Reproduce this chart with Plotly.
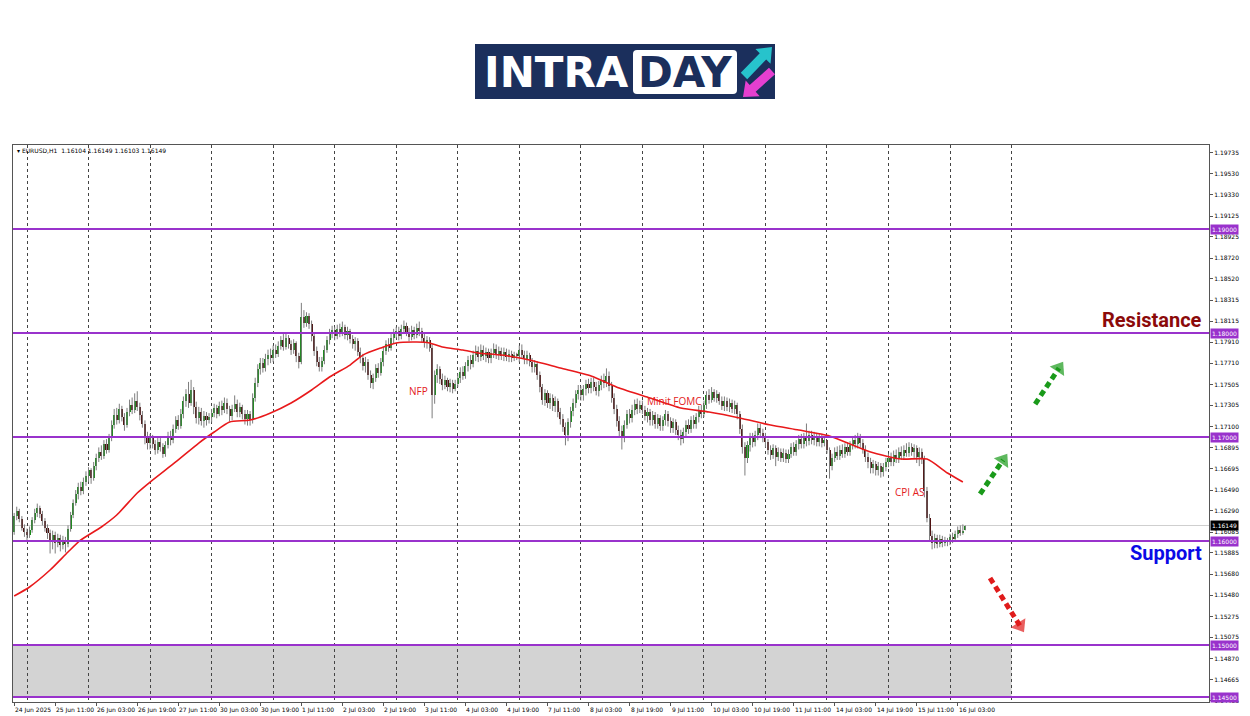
import math
import plotly.graph_objects as go

# ---------------- DATA (EURUSD H1) ----------------
# each bar: (close, high, low); open = previous close
first_open = 1.1609
jun24 = [(1.1624,1.1627,1.1606),(1.1629,1.1633,1.1620),(1.1621,1.1631,1.1618),(1.1613,1.1624,1.1610),(1.1609,1.1616,1.1604)]
jun25 = [(1.1606,1.1612,1.1601),(1.1611,1.1614,1.1603),(1.1620,1.1623,1.1608),(1.1627,1.1631,1.1617),(1.1632,1.1636,1.1623),(1.1626,1.1634,1.1622),
         (1.1619,1.1629,1.1615),(1.1613,1.1622,1.1609),(1.1608,1.1616,1.1602),(1.1601,1.1611,1.1588),(1.1606,1.1610,1.1592),(1.1598,1.1609,1.1588),
         (1.1603,1.1607,1.1594),(1.1596,1.1606,1.1590),(1.1601,1.1605,1.1592),(1.1597,1.1604,1.1589),(1.1612,1.1615,1.1594),(1.1625,1.1628,1.1609),
         (1.1637,1.1640,1.1622),(1.1645,1.1649,1.1634),(1.1652,1.1656,1.1640),(1.1648,1.1657,1.1644),(1.1657,1.1661,1.1645),(1.1663,1.1667,1.1653)]
jun26 = [(1.1668,1.1671,1.1657),(1.1661,1.1670,1.1655),(1.1672,1.1676,1.1658),(1.1680,1.1684,1.1668),(1.1686,1.1690,1.1676),(1.1682,1.1692,1.1678),
         (1.1693,1.1697,1.1679),(1.1688,1.1698,1.1684),(1.1699,1.1703,1.1685),(1.1712,1.1716,1.1696),(1.1721,1.1727,1.1708),(1.1716,1.1728,1.1712),
         (1.1727,1.1732,1.1713),(1.1719,1.1730,1.1715),(1.1712,1.1723,1.1706),(1.1724,1.1728,1.1709),(1.1731,1.1736,1.1720),(1.1726,1.1738,1.1722),
         (1.1735,1.1742,1.1723),(1.1729,1.1744,1.1725),(1.1721,1.1733,1.1716),(1.1713,1.1725,1.1709),(1.1700,1.1716,1.1693),(1.1694,1.1705,1.1688)]
jun27 = [(1.1699,1.1703,1.1688),(1.1693,1.1702,1.1689),(1.1688,1.1697,1.1683),(1.1695,1.1699,1.1684),(1.1690,1.1699,1.1686),(1.1684,1.1694,1.1680),
         (1.1692,1.1696,1.1681),(1.1701,1.1705,1.1689),(1.1697,1.1706,1.1692),(1.1708,1.1712,1.1694),(1.1716,1.1720,1.1704),(1.1711,1.1721,1.1707),
         (1.1722,1.1727,1.1708),(1.1735,1.1739,1.1718),(1.1741,1.1746,1.1729),(1.1733,1.1753,1.1728),(1.1745,1.1755,1.1730),(1.1729,1.1748,1.1722),
         (1.1718,1.1734,1.1713),(1.1724,1.1729,1.1712),(1.1715,1.1728,1.1711),(1.1720,1.1725,1.1709),(1.1716,1.1724,1.1711),(1.1719,1.1723,1.1713)]
jun30 = [(1.1723,1.1727,1.1714),(1.1728,1.1732,1.1719),(1.1722,1.1731,1.1718),(1.1730,1.1734,1.1720),(1.1726,1.1735,1.1721),(1.1733,1.1738,1.1723),
         (1.1727,1.1737,1.1722),(1.1720,1.1730,1.1715),(1.1727,1.1731,1.1716),(1.1732,1.1740,1.1724),(1.1724,1.1736,1.1719),(1.1729,1.1733,1.1719),
         (1.1722,1.1731,1.1717),(1.1717,1.1726,1.1712),(1.1722,1.1726,1.1711),(1.1716,1.1725,1.1711),(1.1738,1.1742,1.1713),(1.1752,1.1757,1.1734),
         (1.1765,1.1770,1.1748),(1.1771,1.1776,1.1760),(1.1766,1.1776,1.1762),(1.1775,1.1780,1.1763),(1.1779,1.1784,1.1769),(1.1776,1.1785,1.1771)]
jul01 = [(1.1784,1.1788,1.1772),(1.1780,1.1789,1.1776),(1.1788,1.1792,1.1777),(1.1793,1.1797,1.1784),(1.1787,1.1799,1.1783),(1.1795,1.1800,1.1784),
         (1.1789,1.1798,1.1785),(1.1784,1.1793,1.1779),(1.1790,1.1794,1.1780),(1.1778,1.1792,1.1772),(1.1772,1.1781,1.1766),(1.1815,1.1829,1.1770),
         (1.1810,1.1822,1.1805),(1.1816,1.1820,1.1806),(1.1809,1.1819,1.1804),(1.1797,1.1812,1.1792),(1.1783,1.1800,1.1778),(1.1772,1.1787,1.1768),
         (1.1767,1.1777,1.1763),(1.1773,1.1777,1.1763),(1.1784,1.1788,1.1770),(1.1793,1.1797,1.1781),(1.1799,1.1804,1.1789),(1.1803,1.1807,1.1795)]
jul02 = [(1.1797,1.1806,1.1793),(1.1804,1.1808,1.1794),(1.1800,1.1809,1.1796),(1.1806,1.1811,1.1797),(1.1798,1.1808,1.1794),(1.1802,1.1806,1.1793),
         (1.1794,1.1804,1.1790),(1.1789,1.1798,1.1785),(1.1792,1.1796,1.1783),(1.1782,1.1795,1.1778),(1.1776,1.1786,1.1771),(1.1768,1.1780,1.1764),
         (1.1772,1.1777,1.1762),(1.1760,1.1775,1.1755),(1.1752,1.1764,1.1747),(1.1757,1.1761,1.1746),(1.1766,1.1770,1.1753),(1.1762,1.1771,1.1757),
         (1.1772,1.1776,1.1759),(1.1783,1.1787,1.1768),(1.1789,1.1793,1.1779),(1.1786,1.1795,1.1782),(1.1795,1.1799,1.1783),(1.1799,1.1804,1.1790)]
jul03 = [(1.1802,1.1806,1.1795),(1.1797,1.1806,1.1793),(1.1804,1.1808,1.1794),(1.1807,1.1812,1.1799),(1.1801,1.1810,1.1797),(1.1796,1.1805,1.1792),
         (1.1803,1.1807,1.1793),(1.1798,1.1806,1.1794),(1.1805,1.1809,1.1795),(1.1802,1.1811,1.1797),(1.1795,1.1805,1.1791),(1.1790,1.1799,1.1786),
         (1.1793,1.1797,1.1785),(1.1786,1.1796,1.1782),(1.1740,1.1789,1.1718),(1.1760,1.1764,1.1732),(1.1765,1.1770,1.1752),(1.1756,1.1768,1.1751),
         (1.1750,1.1761,1.1745),(1.1755,1.1759,1.1746),(1.1748,1.1757,1.1744),(1.1752,1.1756,1.1743),(1.1746,1.1755,1.1742),(1.1751,1.1755,1.1744)]
jul04 = [(1.1757,1.1761,1.1748),(1.1763,1.1767,1.1752),(1.1759,1.1768,1.1755),(1.1768,1.1772,1.1756),(1.1774,1.1778,1.1763),(1.1770,1.1779,1.1765),
         (1.1779,1.1783,1.1767),(1.1783,1.1788,1.1773),(1.1777,1.1787,1.1772),(1.1784,1.1789,1.1773),(1.1778,1.1788,1.1774),(1.1782,1.1786,1.1772),
         (1.1776,1.1785,1.1771),(1.1781,1.1785,1.1771),(1.1785,1.1790,1.1776),(1.1779,1.1789,1.1775),(1.1783,1.1787,1.1774),(1.1778,1.1786,1.1774),
         (1.1782,1.1786,1.1773),(1.1777,1.1785,1.1773),(1.1780,1.1784,1.1772),(1.1776,1.1783,1.1772),(1.1779,1.1782,1.1773),(1.1778,1.1781,1.1774)]
jul07 = [(1.1784,1.1788,1.1772),(1.1779,1.1789,1.1775),(1.1775,1.1783,1.1770),(1.1779,1.1783,1.1770),(1.1772,1.1781,1.1768),(1.1767,1.1776,1.1762),
         (1.1770,1.1774,1.1762),(1.1760,1.1773,1.1755),(1.1748,1.1763,1.1743),(1.1736,1.1751,1.1731),(1.1742,1.1746,1.1730),(1.1733,1.1745,1.1728),
         (1.1738,1.1742,1.1727),(1.1730,1.1741,1.1725),(1.1735,1.1739,1.1724),(1.1724,1.1737,1.1719),(1.1717,1.1728,1.1712),(1.1710,1.1722,1.1705),
         (1.1702,1.1714,1.1692),(1.1714,1.1718,1.1696),(1.1725,1.1729,1.1709),(1.1733,1.1737,1.1720),(1.1741,1.1745,1.1728),(1.1745,1.1750,1.1736)]
jul08 = [(1.1740,1.1749,1.1735),(1.1746,1.1750,1.1735),(1.1751,1.1755,1.1740),(1.1747,1.1756,1.1742),(1.1753,1.1757,1.1742),(1.1748,1.1757,1.1744),
         (1.1744,1.1753,1.1740),(1.1750,1.1754,1.1739),(1.1755,1.1759,1.1745),(1.1752,1.1761,1.1747),(1.1759,1.1766,1.1748),(1.1749,1.1763,1.1744),
         (1.1738,1.1753,1.1733),(1.1727,1.1742,1.1722),(1.1715,1.1731,1.1710),(1.1706,1.1720,1.1700),(1.1699,1.1711,1.1688),(1.1712,1.1716,1.1695),
         (1.1722,1.1726,1.1708),(1.1718,1.1727,1.1713),(1.1726,1.1731,1.1714),(1.1732,1.1736,1.1721),(1.1727,1.1737,1.1722),(1.1731,1.1735,1.1723)]
jul09 = [(1.1726,1.1735,1.1722),(1.1720,1.1730,1.1716),(1.1724,1.1728,1.1714),(1.1716,1.1727,1.1711),(1.1721,1.1725,1.1711),(1.1713,1.1724,1.1708),
         (1.1718,1.1722,1.1708),(1.1711,1.1721,1.1706),(1.1716,1.1720,1.1706),(1.1722,1.1726,1.1711),(1.1715,1.1725,1.1710),(1.1709,1.1719,1.1704),
         (1.1714,1.1718,1.1704),(1.1707,1.1717,1.1702),(1.1702,1.1711,1.1697),(1.1698,1.1707,1.1692),(1.1705,1.1709,1.1694),(1.1712,1.1716,1.1700),
         (1.1708,1.1717,1.1703),(1.1716,1.1720,1.1704),(1.1713,1.1721,1.1708),(1.1719,1.1723,1.1708),(1.1726,1.1730,1.1714),(1.1722,1.1731,1.1718)]
jul10 = [(1.1731,1.1735,1.1719),(1.1740,1.1744,1.1727),(1.1736,1.1746,1.1732),(1.1743,1.1748,1.1733),(1.1738,1.1746,1.1734),(1.1741,1.1745,1.1733),
         (1.1735,1.1743,1.1731),(1.1730,1.1739,1.1726),(1.1735,1.1739,1.1725),(1.1729,1.1738,1.1725),(1.1733,1.1737,1.1724),(1.1727,1.1736,1.1723),
         (1.1731,1.1735,1.1722),(1.1722,1.1733,1.1717),(1.1708,1.1725,1.1703),(1.1690,1.1712,1.1684),(1.1680,1.1695,1.1663),(1.1692,1.1696,1.1675),
         (1.1700,1.1704,1.1686),(1.1695,1.1704,1.1690),(1.1702,1.1706,1.1691),(1.1709,1.1713,1.1697),(1.1704,1.1713,1.1699),(1.1700,1.1708,1.1695)]
jul11 = [(1.1695,1.1704,1.1690),(1.1688,1.1698,1.1683),(1.1683,1.1692,1.1678),(1.1689,1.1693,1.1679),(1.1681,1.1692,1.1672),(1.1686,1.1690,1.1677),
         (1.1680,1.1689,1.1676),(1.1685,1.1689,1.1676),(1.1679,1.1688,1.1675),(1.1684,1.1688,1.1675),(1.1690,1.1694,1.1680),(1.1686,1.1695,1.1682),
         (1.1693,1.1697,1.1682),(1.1698,1.1702,1.1688),(1.1693,1.1703,1.1689),(1.1700,1.1704,1.1689),(1.1696,1.1713,1.1691),(1.1702,1.1706,1.1692),
         (1.1697,1.1706,1.1693),(1.1701,1.1705,1.1692),(1.1695,1.1704,1.1691),(1.1699,1.1703,1.1691),(1.1694,1.1702,1.1690),(1.1697,1.1700,1.1691)]
jul14 = [(1.1688,1.1697,1.1684),(1.1672,1.1690,1.1660),(1.1680,1.1684,1.1668),(1.1686,1.1690,1.1676),(1.1682,1.1691,1.1678),(1.1688,1.1692,1.1678),
         (1.1684,1.1693,1.1680),(1.1690,1.1694,1.1680),(1.1686,1.1695,1.1682),(1.1692,1.1696,1.1682),(1.1697,1.1701,1.1688),(1.1693,1.1702,1.1689),
         (1.1699,1.1704,1.1689),(1.1694,1.1703,1.1690),(1.1688,1.1698,1.1684),(1.1681,1.1692,1.1676),(1.1676,1.1685,1.1670),(1.1670,1.1680,1.1665),
         (1.1674,1.1678,1.1665),(1.1668,1.1677,1.1663),(1.1672,1.1676,1.1663),(1.1666,1.1675,1.1661),(1.1671,1.1675,1.1662),(1.1676,1.1680,1.1667)]
jul15 = [(1.1680,1.1684,1.1671),(1.1676,1.1685,1.1672),(1.1683,1.1687,1.1672),(1.1679,1.1688,1.1675),(1.1686,1.1690,1.1675),(1.1682,1.1691,1.1678),
         (1.1688,1.1692,1.1678),(1.1685,1.1694,1.1681),(1.1690,1.1695,1.1681),(1.1686,1.1694,1.1682),(1.1689,1.1693,1.1680),(1.1681,1.1692,1.1675),
         (1.1686,1.1690,1.1672),(1.1679,1.1689,1.1674),(1.1648,1.1682,1.1642),(1.1622,1.1652,1.1618),(1.1605,1.1626,1.1600),(1.1598,1.1610,1.1592),
         (1.1603,1.1607,1.1593),(1.1597,1.1606,1.1593),(1.1602,1.1606,1.1594),(1.1598,1.1605,1.1594),(1.1601,1.1604,1.1595),(1.1599,1.1603,1.1595)]
jul16 = [(1.1604,1.1607,1.1596),(1.1602,1.1608,1.1598),(1.1607,1.1610,1.1599),(1.1611,1.1614,1.1603),(1.1608,1.1615,1.1605),(1.1610,1.1616,1.1606),
         (1.16149,1.16149,1.16103)]

# 50-period moving average (read at selected bars)
ma_idx = [0, 6, 14, 21, 26, 34, 40, 48, 53, 63, 72, 78, 84, 92, 100, 108, 116, 123, 131, 136, 143, 149, 157, 162, 167,
          175, 181, 190, 201, 213, 225, 236, 248, 260, 271, 283, 295, 306, 318, 326, 334, 346, 356, 364, 370]
ma_val = [1.15471, 1.15558, 1.15721, 1.15894, 1.16010, 1.16135, 1.16250, 1.16462, 1.16567, 1.16760, 1.16942, 1.17048, 1.17144,
          1.17163, 1.17231, 1.17327, 1.17452, 1.17577, 1.17692, 1.17788, 1.17856, 1.17904, 1.17913, 1.17904, 1.17865,
          1.17837, 1.17808, 1.17788, 1.17740, 1.17663, 1.17587, 1.17471, 1.17375, 1.17279, 1.17240, 1.17183, 1.17115,
          1.17067, 1.17010, 1.16933, 1.16856, 1.16788, 1.16788, 1.16654, 1.16567]

# axis labels
day_starts = [5, 29, 53, 77, 101, 125, 149, 173, 197, 221, 245, 269, 293, 317, 341, 365, 389]
time_label_idx = [0, 16, 32, 48, 64, 80, 96, 112, 128, 144, 160, 176, 192, 208, 224, 240, 256, 272, 288, 304, 320, 336, 352, 368]
time_labels = ["24 Jun 2025", "25 Jun 11:00", "26 Jun 03:00", "26 Jun 19:00", "27 Jun 11:00", "30 Jun 03:00", "30 Jun 19:00",
               "1 Jul 11:00", "2 Jul 03:00", "2 Jul 19:00", "3 Jul 11:00", "4 Jul 03:00", "4 Jul 19:00", "7 Jul 11:00",
               "8 Jul 03:00", "8 Jul 19:00", "9 Jul 11:00", "10 Jul 03:00", "10 Jul 19:00", "11 Jul 11:00", "14 Jul 03:00",
               "14 Jul 19:00", "15 Jul 11:00", "16 Jul 03:00"]
price_ticks = [1.19735, 1.19530, 1.19330, 1.19125, 1.18925, 1.18720, 1.18520, 1.18315, 1.18115, 1.17910, 1.17710, 1.17505,
               1.17305, 1.17100, 1.16895, 1.16695, 1.16490, 1.16290, 1.16085, 1.15885, 1.15680, 1.15480, 1.15275, 1.15075,
               1.14870, 1.14665, 1.14465]
levels = [1.19, 1.18, 1.17, 1.16, 1.15, 1.145]
last_price = 1.16149
zone = (1.145, 1.150, 389)  # low, high, end bar (17 Jul 00:00)
events = [("NFP", 157.5, 1.17442), ("Minit FOMC", 257.7, 1.17346), ("CPI AS", 349.4, 1.16471)]
arrows = [((376.7, 1.16452), (385.7, 1.16779), "#1a9a1a"),
          ((398.2, 1.17317), (407.5, 1.17663), "#1a9a1a"),
          ((380.6, 1.15644), (392.3, 1.15183), "#e01b1b")]

# ---------------- BUILD ----------------
days = [jun24, jun25, jun26, jun27, jun30, jul01, jul02, jul03, jul04, jul07, jul08, jul09, jul10, jul11, jul14, jul15, jul16]
bars = [b for d in days for b in d]
closes = [b[0] for b in bars]
highs = [b[1] for b in bars]
lows = [b[2] for b in bars]
opens = [first_open] + closes[:-1]
opens[-1] = 1.16104
xs = list(range(len(bars)))

L, R, T, B = 13, 1209, 145, 702
W, H = 1250, 716
YR = [1.14452, 1.19808]
XR = [-0.46, 466.0]

def px(x):
    return (x - L) / (R - L)

def py(y):
    return (B - y) / (B - T)

fig = go.Figure()

# wicks
wx, wy = [], []
for i in xs:
    wx += [i, i, None]
    wy += [lows[i], highs[i], None]
fig.add_trace(go.Scatter(x=wx, y=wy, mode="lines", line=dict(color="#7d7d7d", width=1), hoverinfo="skip", showlegend=False))

up_x, up_b, up_h, dn_x, dn_b, dn_h = [], [], [], [], [], []
for i in xs:
    o, c = opens[i], closes[i]
    hgt = max(abs(c - o), 0.00004)
    if c >= o:
        up_x.append(i); up_b.append(o); up_h.append(hgt)
    else:
        dn_x.append(i); dn_b.append(c); dn_h.append(hgt)
fig.add_trace(go.Bar(x=up_x, y=up_h, base=up_b, width=0.8, marker=dict(color="#178a17", line=dict(width=0)), showlegend=False, hoverinfo="skip"))
fig.add_trace(go.Bar(x=dn_x, y=dn_h, base=dn_b, width=0.8, marker=dict(color="#4e1010", line=dict(width=0)), showlegend=False, hoverinfo="skip"))

# moving average
fig.add_trace(go.Scatter(x=ma_idx, y=ma_val, mode="lines", line=dict(color="#e8191b", width=1.6, shape="spline", smoothing=0.6),
                         hoverinfo="skip", showlegend=False))

# arrows
for (x0, y0), (x1, y1), col in arrows:
    fig.add_trace(go.Scatter(x=[x0, x1], y=[y0, y1], mode="lines+markers",
                             line=dict(color=col, width=5, dash="6px,4px"),
                             marker=dict(symbol="triangle-up", size=[0, 15], color=col, angleref="previous", line=dict(width=0)),
                             hoverinfo="skip", showlegend=False))

shapes = []
# zone
shapes.append(dict(type="rect", xref="x", yref="y", x0=XR[0], x1=zone[2], y0=zone[0], y1=zone[1],
                   fillcolor="#d3d3d3", line=dict(width=0), layer="below"))
# current price line
shapes.append(dict(type="line", xref="paper", yref="y", x0=0, x1=1, y0=last_price, y1=last_price,
                   line=dict(color="#cfcfcf", width=1), layer="below"))
for lv in levels:
    shapes.append(dict(type="line", xref="paper", yref="y", x0=0, x1=1, y0=lv, y1=lv, line=dict(color="#9932cc", width=2)))

# logo
NAVY = "#1b2f5c"
shapes.append(dict(type="rect", xref="paper", yref="paper", x0=px(475), x1=px(775), y0=py(99), y1=py(44),
                   fillcolor=NAVY, line=dict(width=0), layer="above"))

def rounded(x0, y0, x1, y1, r):
    return (f"M {px(x0 + r)},{py(y0)} L {px(x1 - r)},{py(y0)} Q {px(x1)},{py(y0)} {px(x1)},{py(y0 + r)} "
            f"L {px(x1)},{py(y1 - r)} Q {px(x1)},{py(y1)} {px(x1 - r)},{py(y1)} L {px(x0 + r)},{py(y1)} "
            f"Q {px(x0)},{py(y1)} {px(x0)},{py(y1 - r)} L {px(x0)},{py(y0 + r)} Q {px(x0)},{py(y0)} {px(x0 + r)},{py(y0)} Z")

shapes.append(dict(type="path", xref="paper", yref="paper", path=rounded(633, 50, 737, 94, 4),
                   fillcolor="white", line=dict(width=0), layer="above"))

def arrow_path(tx, ty, hx, hy, w, hw, hl):
    dx, dy = hx - tx, hy - ty
    ln = math.hypot(dx, dy)
    ux, uy = dx / ln, dy / ln
    nx, ny = -uy, ux
    bx, by = hx - ux * hl, hy - uy * hl
    p = [(tx + nx * w / 2, ty + ny * w / 2), (bx + nx * w / 2, by + ny * w / 2), (bx + nx * hw / 2, by + ny * hw / 2),
         (hx, hy), (bx - nx * hw / 2, by - ny * hw / 2), (bx - nx * w / 2, by - ny * w / 2), (tx - nx * w / 2, ty - ny * w / 2)]
    return "M " + " L ".join(f"{px(a)},{py(b)}" for a, b in p) + " Z"

shapes.append(dict(type="path", xref="paper", yref="paper", path=arrow_path(744, 76, 772, 47, 9, 21, 13),
                   fillcolor="#27c3cc", line=dict(width=0), layer="above"))
shapes.append(dict(type="path", xref="paper", yref="paper", path=arrow_path(772, 71, 743, 97, 9, 21, 13),
                   fillcolor="#e53fd0", line=dict(width=0), layer="above"))

ann = []
ann.append(dict(xref="paper", yref="paper", x=px(556), y=py(72), text="<b>INTRA</b>", showarrow=False,
                font=dict(family="DejaVu Sans", size=42, color="white"), xanchor="center", yanchor="middle"))
ann.append(dict(xref="paper", yref="paper", x=px(685), y=py(72), text="<b>DAY</b>", showarrow=False,
                font=dict(family="DejaVu Sans", size=42, color=NAVY), xanchor="center", yanchor="middle"))
ann.append(dict(xref="paper", yref="paper", x=px(15), y=py(150), text="▾ EURUSD,H1  1.16104 1.16149 1.16103 1.16149",
                showarrow=False, xanchor="left", yanchor="middle", font=dict(family="DejaVu Sans", size=6, color="#000")))
for i, t in zip(time_label_idx, time_labels):
    ann.append(dict(xref="x", yref="paper", x=i, y=0, text=t, showarrow=False, xanchor="left", yanchor="top",
                    xshift=-1, yshift=-2, font=dict(family="DejaVu Sans", size=6, color="#000")))
for lv in levels:
    ann.append(dict(xref="paper", yref="y", x=1, y=lv, text=f"{lv:.5f}", showarrow=False, xanchor="left", yanchor="middle",
                    xshift=1, bgcolor="#9932cc", borderpad=1, font=dict(family="DejaVu Sans", size=6, color="white")))
ann.append(dict(xref="paper", yref="y", x=1, y=last_price, text=f"{last_price:.5f}", showarrow=False, xanchor="left",
                yanchor="middle", xshift=1, bgcolor="#000000", borderpad=1, font=dict(family="DejaVu Sans", size=6, color="white")))
for name, ex, ey in events:
    ann.append(dict(xref="x", yref="y", x=ex, y=ey, text=name, showarrow=False, xanchor="center", yanchor="middle",
                    font=dict(family="Open Sans", size=10, color="#e3201b")))
ann.append(dict(xref="paper", yref="paper", x=px(1204), y=py(320), text="<b>Resistance</b>", showarrow=False, xanchor="right",
                yanchor="middle", font=dict(family="Roboto", size=20, color="#8b0a0a")))
ann.append(dict(xref="paper", yref="paper", x=px(1204), y=py(553), text="<b>Support</b>", showarrow=False, xanchor="right",
                yanchor="middle", font=dict(family="Roboto", size=20, color="#0a0ae6")))

fig.update_layout(
    width=W, height=H, autosize=False,
    margin=dict(l=L, r=W - R, t=T, b=H - B, pad=0),
    paper_bgcolor="white", plot_bgcolor="white",
    barmode="overlay", bargap=0, showlegend=False,
    shapes=shapes, annotations=ann,
    xaxis=dict(range=XR, tickvals=day_starts, showticklabels=False, ticks="", showgrid=True, griddash="dot",
               gridcolor="#444444", gridwidth=1, zeroline=False, showline=True, linecolor="#555555", linewidth=1, mirror=True,
               minor=dict(tickvals=time_label_idx, ticks="outside", ticklen=3, tickcolor="#555", showgrid=False),
               fixedrange=True),
    yaxis=dict(range=YR, side="right", tickvals=price_ticks, ticktext=[f"{v:.5f}" for v in price_ticks], ticks="outside",
               ticklen=3, tickcolor="#555", tickfont=dict(family="DejaVu Sans", size=6, color="#000"), showgrid=False,
               zeroline=False, showline=True, linecolor="#555555", linewidth=1, mirror=True, fixedrange=True),
)

fig.write_html("out.html", config={"displayModeBar": False},
               post_script="document.body.style.margin='0';document.body.style.overflow='hidden';")
